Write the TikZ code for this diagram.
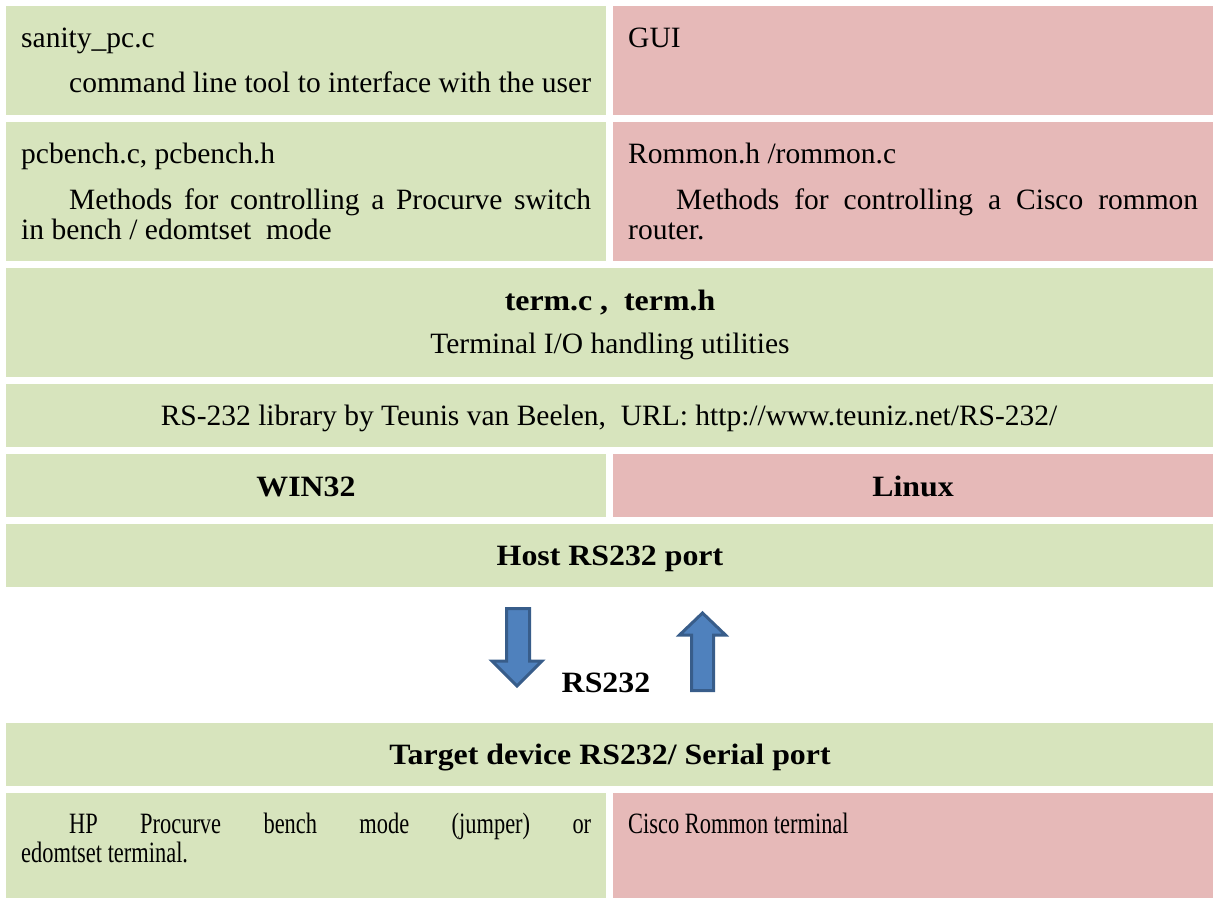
\documentclass[tikz,border=0pt]{standalone}
\usepackage{fontspec}
\setmainfont{Liberation Serif}[BoldFeatures={FakeStretch=1.08}]
\newfontfamily\condfont[FakeStretch=0.76]{Liberation Serif}
\definecolor{cellgreen}{HTML}{D7E4BD}
\definecolor{cellred}{HTML}{E6B9B8}
\definecolor{arrfill}{HTML}{4F81BD}
\definecolor{arrline}{HTML}{385D8A}
\newcommand\mysize{\fontsize{29.5}{34}\selectfont}
\tikzset{
  gcell/.style={fill=cellgreen},
  rcell/.style={fill=cellred},
  txt/.style={anchor=base west, inner sep=0pt, font=\mysize},
  ctxt/.style={anchor=base, inner sep=0pt, font=\mysize},
  btxt/.style={anchor=base, inner sep=0pt, font=\mysize\bfseries},
  blockarrow/.style={fill=arrfill, draw=arrline, line width=3pt, line join=miter}
}
\begin{document}
\begin{tikzpicture}[x=1pt,y=-1pt]
\useasboundingbox (0,0) rectangle (1215,900);
% row 1
\fill[gcell] (6,6) rectangle (606,115);
\fill[rcell] (613,6) rectangle (1213,115);
\node[txt] (san) at (21,47) {sanity\_pc.c};
\node[txt] (cmd) at (69,92) {command line tool to interface with the user};
\node[txt] (gui) at (628,47) {GUI};
% row 2
\fill[gcell] (6,122) rectangle (606,261);
\fill[rcell] (613,122) rectangle (1213,261);
\node[txt] (pcb) at (21,163) {pcbench.c, pcbench.h};
\node[txt] (pcb1) at (69,209) {\hbox to 522pt{Methods\hfill for\hfill controlling\hfill a\hfill Procurve\hfill switch}};
\node[txt] (pcb2) at (21,239) {in bench / edomtset\ \ mode};
\node[txt] (rom) at (628,163) {Rommon.h /rommon.c};
\node[txt] (rom1) at (676,209) {\hbox to 522pt{Methods\hfill for\hfill controlling\hfill a\hfill Cisco\hfill rommon}};
\node[txt] (rom2) at (628,239) {router.};
% row 3
\fill[gcell] (6,268) rectangle (1213,377);
\node[btxt] (term) at (610,310) {term.c ,\ \ term.h};
\node[ctxt] (termd) at (610,353) {Terminal I/O handling utilities};
% row 4
\fill[gcell] (6,384) rectangle (1213,447);
\node[ctxt] (lib) at (609,425) {RS-232 library by Teunis van Beelen,\ \ URL: http://www.teuniz.net/RS-232/};
% row 5
\fill[gcell] (6,454) rectangle (606,517);
\fill[rcell] (613,454) rectangle (1213,517);
\node[btxt] (win) at (306,496) {WIN32};
\node[btxt] (lin) at (913,496) {Linux};
% row 6
\fill[gcell] (6,524) rectangle (1213,587);
\node[btxt] (host) at (610,565) {Host RS232 port};
% arrows
\draw[blockarrow] (506.5,608.5) -- (529.5,608.5) -- (529.5,661) -- (542,661) -- (517,686) -- (492,661) -- (506.5,661) -- cycle;
\draw[blockarrow] (691.5,690.5) -- (713.5,690.5) -- (713.5,635) -- (725.5,635) -- (702.5,613) -- (679.5,635) -- (691.5,635) -- cycle;
\node[btxt] (rs) at (606,692) {RS232};
% row 7
\fill[gcell] (6,723) rectangle (1213,786);
\node[btxt] (tgt) at (610,764) {Target device RS232/ Serial port};
% row 8
\fill[gcell] (6,793) rectangle (606,898);
\fill[rcell] (613,793) rectangle (1213,898);
\node[txt] (hp1) at (69,833) {\condfont\hbox to 522pt{HP\hfill Procurve\hfill bench\hfill mode\hfill (jumper)\hfill or}};
\node[txt] (hp2) at (21,862) {\condfont edomtset terminal.};
\node[txt] (cis) at (628,833) {\condfont Cisco Rommon terminal};
\end{tikzpicture}
\end{document}
